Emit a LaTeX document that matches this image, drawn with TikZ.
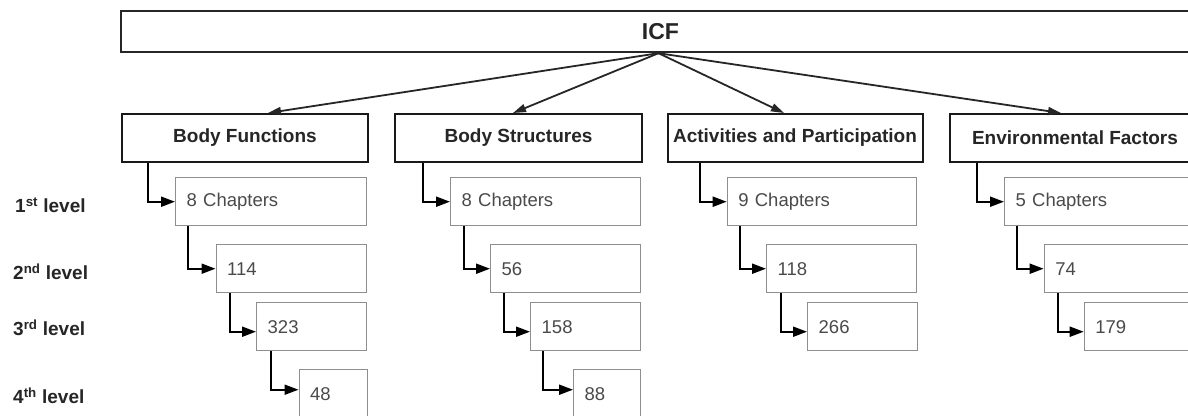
\documentclass[tikz,border=0pt]{standalone}
\usepackage{fontspec}
\setmainfont{Liberation Sans}
\usetikzlibrary{arrows.meta}
\definecolor{boxgray}{HTML}{8E8E8E}
\definecolor{txtdark}{HTML}{262626}
\definecolor{txtgray}{HTML}{4A4A4A}
\begin{document}
\begin{tikzpicture}[x=1pt,y=-1pt,
  icfbox/.style={draw=black!85, line width=2.4pt, minimum width=1079pt, minimum height=41pt, inner sep=0pt, font=\fontsize{23}{26}\selectfont\bfseries, text=txtdark},
  catbox/.style={draw=black!90, line width=2pt, minimum height=48pt, inner sep=0pt, font=\fontsize{19}{22}\selectfont\bfseries, text=txtdark},
  lvlbox/.style={draw=boxgray, line width=1.4pt, minimum height=48pt, inner xsep=11pt, inner ysep=0pt, anchor=north west, align=left, font=\fontsize{18.5}{21}\selectfont, text=txtgray},
  lvllabel/.style={anchor=west, inner sep=0pt, font=\fontsize{19}{22}\selectfont\bfseries, text=txtdark},
  conn/.style={draw=black, line width=2pt, -{Triangle[length=14pt,width=10pt]}},
  topconn/.style={draw=black!85, line width=1.8pt, -{Triangle[length=13pt,width=8pt]}}
]
\useasboundingbox (0,0) rectangle (1188,415);
\fill[white] (0,0) rectangle (1188,415);
\clip (0,0) rectangle (1188,415);

% top box
\node[icfbox] (ICF) at (660.5,31.5) {ICF\hspace{25pt}};
\coordinate (hub) at ([xshift=-2pt]ICF.south);

% category boxes
\node[catbox, minimum width=246pt] (BF) at (245,138) {Body Functions};
\node[catbox, minimum width=247pt] (BS) at (518.5,138) {Body Structures};
\node[catbox, minimum width=255pt] (AP) at (795,138) {Activities and Participation};
\node[catbox, minimum width=250pt] (EF) at (1075,138) {Environmental Factors};

\draw[topconn] (hub) -- ([xshift=23pt]BF.north);
\draw[topconn] (hub) -- ([xshift=-5.5pt]BS.north);
\draw[topconn] (hub) -- ([xshift=-11pt]AP.north);
\draw[topconn] (hub) -- ([xshift=-14pt]EF.north);

% level labels
\node[lvllabel] (lab1) at (15,205) {1\textsuperscript{st} level};
\node[lvllabel] (lab2) at (13,272) {2\textsuperscript{nd} level};
\node[lvllabel] (lab3) at (13,328) {3\textsuperscript{rd} level};
\node[lvllabel] (lab4) at (13,396) {4\textsuperscript{th} level};

% Body Functions chain
\node[lvlbox, text width=169pt] (bf1) at (175,177) {8 Chapters};
\node[lvlbox, text width=128.5pt] (bf2) at (215.5,244) {114};
\node[lvlbox, text width=88pt] (bf3) at (256,302) {323};
\node[lvlbox, text width=46pt] (bf4) at (298.5,369) {48};
\draw[conn] ([xshift=27pt]BF.south west) |- (bf1.west);
\draw[conn] ([xshift=13pt]bf1.south west) |- (bf2.west);
\draw[conn] ([xshift=14.5pt]bf2.south west) |- ([yshift=-5pt]bf3.west);
\draw[conn] ([xshift=14.5pt]bf3.south west) |- ([yshift=4pt]bf4.west);

% Body Structures chain
\node[lvlbox, text width=168pt] (bs1) at (450,177) {8 Chapters};
\node[lvlbox, text width=128pt] (bs2) at (490,244) {56};
\node[lvlbox, text width=88pt] (bs3) at (530,302) {158};
\node[lvlbox, text width=45pt] (bs4) at (573,369) {88};
\draw[conn] ([xshift=29pt]BS.south west) |- (bs1.west);
\draw[conn] ([xshift=14pt]bs1.south west) |- (bs2.west);
\draw[conn] ([xshift=14pt]bs2.south west) |- ([yshift=-5pt]bs3.west);
\draw[conn] ([xshift=13pt]bs3.south west) |- ([yshift=4pt]bs4.west);

% Activities and Participation chain
\node[lvlbox, text width=167.3pt] (ap1) at (726.7,177) {9 Chapters};
\node[lvlbox, text width=128pt] (ap2) at (766,244) {118};
\node[lvlbox, text width=88pt] (ap3) at (807,302) {266};
\draw[conn] ([xshift=33pt]AP.south west) |- (ap1.west);
\draw[conn] ([xshift=13.3pt]ap1.south west) |- (ap2.west);
\draw[conn] ([xshift=15pt]ap2.south west) |- ([yshift=-5pt]ap3.west);

% Environmental Factors chain
\node[lvlbox, text width=174pt] (ef1) at (1004,177) {5 Chapters};
\node[lvlbox, text width=134.4pt] (ef2) at (1043.6,244) {74};
\node[lvlbox, text width=94.3pt] (ef3) at (1083.7,302) {179};
\draw[conn] ([xshift=28pt]EF.south west) |- (ef1.west);
\draw[conn] ([xshift=13pt]ef1.south west) |- (ef2.west);
\draw[conn] ([xshift=14.4pt]ef2.south west) |- ([yshift=-5pt]ef3.west);
\end{tikzpicture}
\end{document}
